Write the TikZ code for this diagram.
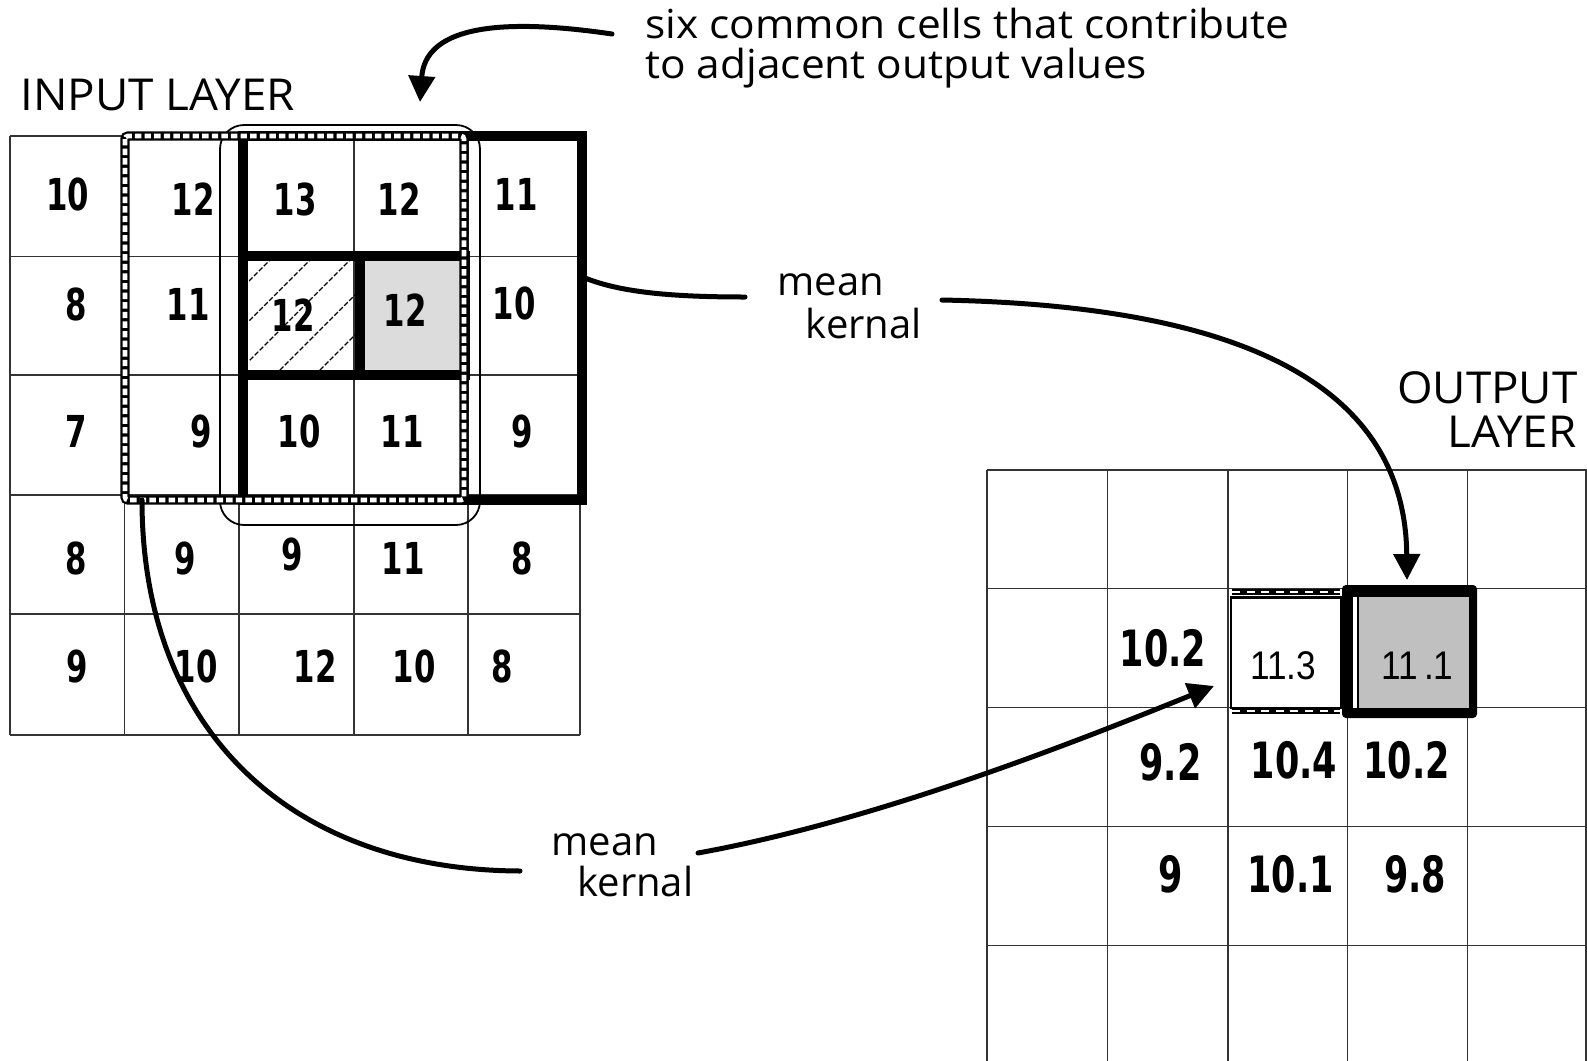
\documentclass[tikz,border=0pt]{standalone}
\usepackage{fontspec}
\setmainfont{Open Sans}
\newfontfamily\lblfont{Open Sans}
\newfontfamily\lblwide{Open Sans}[FakeStretch=1.06]
\newfontfamily\capfont{Open Sans}[FakeStretch=1.04]
\newfontfamily\digfont{DejaVu Sans}[FakeStretch=0.7]
\newfontfamily\arfont{Liberation Sans}[FakeStretch=0.88]
\usetikzlibrary{arrows.meta}
\definecolor{gridc}{HTML}{333333}
\definecolor{lightg}{HTML}{DCDCDC}
\definecolor{midg}{HTML}{C0C0C0}
\tikzset{
  gridline/.style={line width=0.9pt, draw=gridc},
  ind/.style={font=\digfont\bfseries\fontsize{22}{22}\selectfont, inner sep=0pt},
  outd/.style={font=\digfont\bfseries\fontsize{25}{25}\selectfont, inner sep=0pt},
  ard/.style={font=\arfont\fontsize{20}{20}\selectfont, inner sep=0pt},
  lbl/.style={font=\lblfont\fontsize{20}{20}\selectfont, inner sep=0pt},
  lblw/.style={font=\lblwide\fontsize{20}{20}\selectfont, inner sep=0pt},
  caplbl/.style={font=\capfont\fontsize{22}{22}\selectfont, inner sep=0pt},
  kernbox/.style={line width=5pt, draw=black, line join=miter},
  strip/.style={line width=4.6pt, draw=black, rounded corners=1.5pt,
    postaction={draw=white, line width=2.4pt, dash pattern=on 3.2pt off 1.6pt}},
  ostrip/.style={line width=3pt, draw=black,
    postaction={draw=white, line width=1.3pt, dash pattern=on 4pt off 3.3pt}},
  conn/.style={line width=2.5pt, draw=black, line cap=round},
  tip/.style={-{Triangle[length=13pt,width=13pt]}},
  hatch/.style={line width=0.6pt, draw=black, dash pattern=on 2.5pt off 1pt},
  roundbox/.style={line width=0.9pt, draw=black, rounded corners=12pt}
}
\begin{document}
\begin{tikzpicture}[x=0.5pt,y=-0.5pt]
\useasboundingbox (0,0) rectangle (1587,1061);

% ---------- input layer ----------
\fill[lightg] (354,256.5) rectangle (467.7,375);
\foreach \x in {9.6,124.4,239.2,354,467.7,579.8}
  \draw[gridline] (\x,136) -- (\x,735);
\foreach \y in {136,256.5,375,495,614.3,735}
  \draw[gridline] (9.6,\y) -- (579.8,\y);

% hatching of the centre cell
\begin{scope}
  \clip (249,261) rectangle (355,370);
  \foreach \k in {110,150,...,370}
    \draw[hatch] (\k,380) -- (\k+140,240);
\end{scope}

% six common cells
\draw[roundbox] (220,125) rectangle (480,525);
% 3x3 kernel (solid)
\draw[kernbox] (243,136) rectangle (582,500);
% the two centre cells
\draw[kernbox] (243,256) rectangle (465,375);
\draw[line width=5pt] (360,256) -- (360,375);
% 3x3 kernel (striped)
\draw[strip] (125,136) rectangle (464,500);

% input values
\node[ind] (i00) at (67.5,194) {10};
\node[ind] (i01) at (193,199) {12};
\node[ind] (i02) at (295,199) {13};
\node[ind] (i03) at (399,199) {12};
\node[ind] (i04) at (516,194) {11};
\node[ind] (i10) at (76.5,304) {8};
\node[ind] (i11) at (188,304) {11};
\node[ind] (i12) at (293,315) {12};
\node[ind] (i13) at (405,310) {12};
\node[ind] (i14) at (514,303) {10};
\node[ind] (i20) at (76.5,431) {7};
\node[ind] (i21) at (201,431) {9};
\node[ind] (i22) at (299,431) {10};
\node[ind] (i23) at (402,431) {11};
\node[ind] (i24) at (522,431) {9};
\node[ind] (i30) at (76.5,558) {8};
\node[ind] (i31) at (185,558) {9};
\node[ind] (i32) at (292,554) {9};
\node[ind] (i33) at (403,558) {11};
\node[ind] (i34) at (522,558) {8};
\node[ind] (i40) at (77.5,666) {9};
\node[ind] (i41) at (196,666) {10};
\node[ind] (i42) at (315,666) {12};
\node[ind] (i43) at (414,666) {10};
\node[ind] (i44) at (502.5,666) {8};

% ---------- output layer ----------
\foreach \x in {987,1107.5,1228,1347.5,1467.5,1586}
  \draw[gridline] (\x,470) -- (\x,1061);
\foreach \y in {470,588.5,707.5,826.5,945.5}
  \draw[gridline] (987,\y) -- (1587,\y);

% 11.3 cell
\draw[ostrip] (1232,592) -- (1340,592);
\draw[ostrip] (1232,711) -- (1340,711);
\draw[line width=1.3pt, fill=white] (1231,597.5) rectangle (1341,708);
% 11.1 cell
\fill[black, rounded corners=2pt] (1342,585) rectangle (1477,718);
\fill[white] (1353,597) rectangle (1357,708);
\fill[midg] (1359,597) rectangle (1469,708);

\node[outd] (o11) at (1163,648) {10.2};
\node[ard]  (o12) at (1283,666) {11.3};
\node[ard]  (o13) at (1417.5,666) {11\kern3pt.1};
\node[outd] (o21) at (1170.5,762) {9.2};
\node[outd] (o22) at (1294,760) {10.4};
\node[outd] (o23) at (1406.5,760) {10.2};
\node[outd] (o31) at (1171,874) {9};
\node[outd] (o32) at (1290.5,874) {10.1};
\node[outd] (o33) at (1415,874) {9.8};

% ---------- labels ----------
\node[caplbl, anchor=base west] (inlab) at (20,110) {INPUT LAYER};
\node[caplbl, anchor=base east] (outlab1) at (1578,403) {OUTPUT};
\node[caplbl, anchor=base east] (outlab2) at (1577,447) {LAYER};
\node[lblw, anchor=base west] (six1) at (645,38.3) {six common cells that contribute};
\node[lblw, anchor=base west] (six2) at (645,78.3) {to adjacent output values};
\node[lbl, anchor=base west] (mk1a) at (777,295) {mean};
\node[lbl, anchor=base west] (mk1b) at (805.5,338.3) {kernal};
\node[lbl, anchor=base west] (mk2a) at (551,855) {mean};
\node[lbl, anchor=base west] (mk2b) at (577,896.7) {kernal};

% ---------- connectors ----------
\coordinate (sixS) at (612,34);
\coordinate (stripT) at (420,102);
\coordinate (kernR) at (585,278);
\coordinate (mk1L) at (745,297);
\coordinate (mk1R) at (942,300);
\coordinate (cellB) at (1407,580);
\coordinate (stripB) at (142,500);
\coordinate (mk2L) at (520,871);
\coordinate (mk2R) at (698,853);
\coordinate (cellA) at (1214,686);

\draw[conn, tip] (sixS) .. controls (490,16) and (425,30) .. (stripT);
\draw[conn] (kernR) .. controls (620,292) and (670,297) .. (mk1L);
\draw[conn, tip] (mk1R) .. controls (1190,305) and (1405,360) .. (cellB);
\draw[conn] (stripB) .. controls (142,730) and (290,870) .. (mk2L);
\draw[conn, tip] (mk2R) .. controls (880,820) and (1080,740) .. (cellA);
\end{tikzpicture}
\end{document}
